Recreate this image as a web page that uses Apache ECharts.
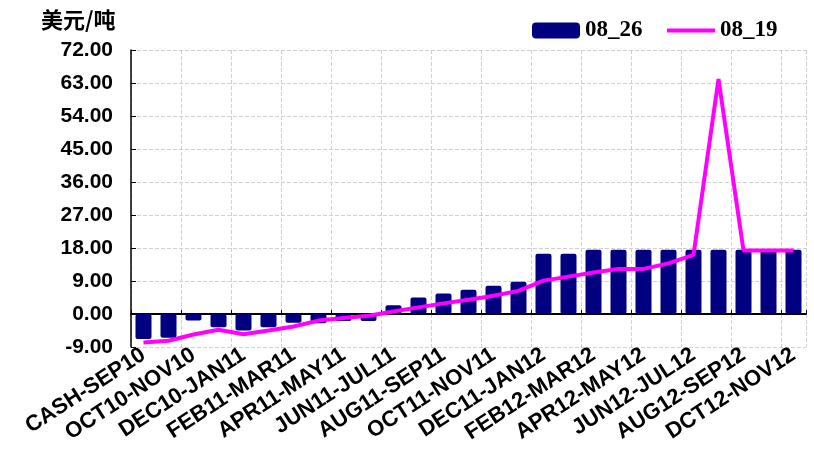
<!DOCTYPE html>
<html>
<head>
<meta charset="utf-8">
<script src="https://cdn.jsdelivr.net/npm/echarts@6/dist/echarts.min.js"></script>
<style>
  html, body { margin: 0; padding: 0; background: #fff; }
  #chart { width: 814px; height: 450px; }
</style>
</head>
<body>
<div id="chart"></div>
<script>
// 合约月份
var categories = [
  'CASH-SEP10', 'SEP10-OCT10', 'OCT10-NOV10', 'NOV10-DEC10', 'DEC10-JAN11',
  'JAN11-FEB11', 'FEB11-MAR11', 'MAR11-APR11', 'APR11-MAY11', 'MAY11-JUN11',
  'JUN11-JUL11', 'JUL11-AUG11', 'AUG11-SEP11', 'SEP11-OCT11', 'OCT11-NOV11',
  'NOV11-DEC11', 'DEC11-JAN12', 'JAN12-FEB12', 'FEB12-MAR12', 'MAR12-APR12',
  'APR12-MAY12', 'MAY12-JUN12', 'JUN12-JUL12', 'JUL12-AUG12', 'AUG12-SEP12',
  'SEP12-OCT12', 'DCT12-NOV12'
];
// 08_26 柱
var values0826 = [
  -6.8, -6.5, -1.8, -3.6, -4.5, -3.6, -2.4, -2.5, -1.9, -1.9,
  2.4, 4.5, 5.6, 6.6, 7.7, 8.8, 16.4, 16.4, 17.5, 17.5,
  17.5, 17.5, 17.5, 17.5, 17.5, 17.5, 17.5
];
// 08_19 线
var values0819 = [
  -7.8, -7.3, -5.6, -4.3, -5.5, -4.5, -3.4, -1.8, -1.1, -0.5,
  0.7, 1.8, 2.9, 3.9, 5.0, 6.3, 9.1, 10.2, 11.3, 12.3,
  12.3, 13.8, 16.1, 64.1, 17.3, 17.3, 17.3
];
var yMin = -9, yMax = 72, yStep = 9;

var labelFont = { color: '#000', fontWeight: 'bold', fontFamily: 'Liberation Sans, Arial', fontSize: 21 };
var legendText = { color: '#000', fontWeight: 'bold', fontFamily: 'Liberation Serif', fontSize: 23 };

var myChart = echarts.init(document.getElementById('chart'));
var option = {
  animation: false,
  title: {
    text: '美元/吨',
    left: 36,
    top: 4,
    textStyle: { fontFamily: 'Noto Sans CJK SC', fontWeight: 'bold', fontSize: 22, color: '#000' }
  },
  legend: [
    {
      data: ['08_26'],
      left: 527, top: 14,
      itemWidth: 48, itemHeight: 16,
      textStyle: legendText
    },
    {
      data: [{ name: '08_19', icon: 'rect' }],
      left: 662, top: 14,
      itemWidth: 48, itemHeight: 4,
      itemStyle: { color: '#ff00ff' },
      textStyle: legendText
    }
  ],
  grid: { left: 131, right: 8, top: 50, bottom: 103 },
  xAxis: [
    {
      type: 'category',
      data: categories,
      axisLine: { onZero: false, show: false },
      axisTick: { show: false },
      axisLabel: Object.assign({ interval: 1, rotate: 33, margin: 6 }, labelFont, { fontSize: 22 }),
      splitLine: { show: true, interval: 1, lineStyle: { color: '#d0d0d0', type: 'dashed', width: 1 } }
    },
    {
      type: 'category',
      data: categories,
      position: 'bottom',
      axisLine: { onZero: true, lineStyle: { color: '#000', width: 2 } },
      axisTick: { show: true, inside: true, interval: 1, length: 4, lineStyle: { color: '#000' } },
      axisLabel: { show: false },
      splitLine: { show: false }
    }
  ],
  yAxis: {
    type: 'value',
    min: yMin, max: yMax, interval: yStep,
    axisLine: { show: true, lineStyle: { color: '#000', width: 1.5 } },
    axisTick: { show: true, inside: true, length: 5, lineStyle: { color: '#000' } },
    axisLabel: Object.assign({ margin: 18, formatter: function (v) { return v.toFixed(2); } }, labelFont),
    splitLine: { show: true, lineStyle: { color: '#d0d0d0', type: 'dashed', width: 1 } }
  },
  series: [
    {
      name: '08_26',
      type: 'bar',
      xAxisIndex: 0,
      data: values0826,
      barWidth: 16,
      itemStyle: { color: '#000080', borderRadius: 2 }
    },
    {
      name: '08_19',
      type: 'line',
      xAxisIndex: 0,
      data: values0819,
      symbol: 'none',
      lineStyle: { color: '#ff00ff', width: 4 },
      itemStyle: { color: '#ff00ff' },
      z: 5
    }
  ]
};
myChart.setOption(option);
</script>
</body>
</html>
